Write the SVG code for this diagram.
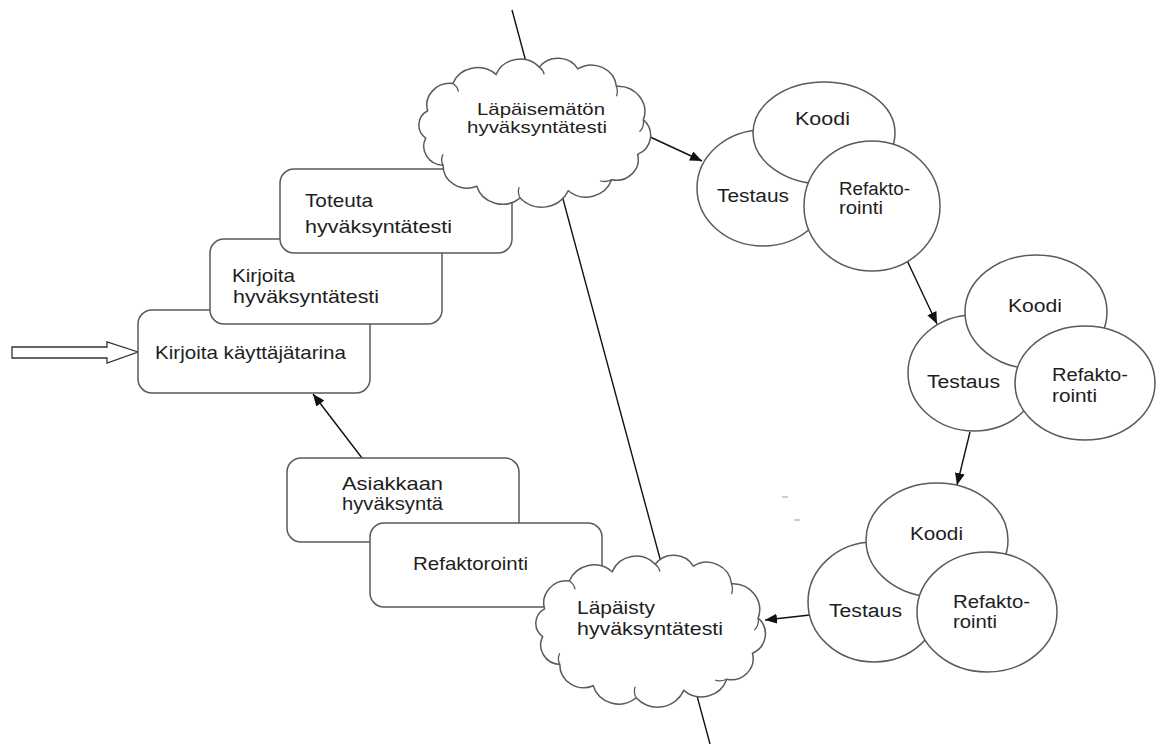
<svg xmlns="http://www.w3.org/2000/svg" width="1160" height="744" viewBox="0 0 1160 744">
<style>
.box{fill:#fff;stroke:#5a5a5a;stroke-width:1.5}
.ell{fill:#fff;stroke:#5a5a5a;stroke-width:1.5}
.cloud{fill:#fff;stroke:#5a5a5a;stroke-width:1.5;vector-effect:non-scaling-stroke}
.curl{fill:none;stroke:#5a5a5a;stroke-width:1.3;vector-effect:non-scaling-stroke}
.t{font-family:"Liberation Sans",Arial,sans-serif;fill:#1e1e1e}
.tb{font-size:19px}
.tc{font-size:17px}
.te{font-size:18px}
.ln{stroke:#111;stroke-width:1.4;fill:none}
.arr{marker-end:url(#ah)}
.hollow{fill:#fff;stroke:#333;stroke-width:1.3}
.stray{stroke:#bbb;stroke-width:1.5}
</style>
<defs>
<marker id="ah" viewBox="0 0 12 10" refX="12" refY="5" markerWidth="12" markerHeight="10" markerUnits="userSpaceOnUse" orient="auto"><path d="M0,0 L12,5 L0,10 z" fill="#111"/></marker>
<g id="cloudShape">
<path class="cloud" d="M4,52 A24,24 0 0 1 30,22 A28,28 0 0 1 75,12 A27,27 0 0 1 120,4 A24,24 0 0 1 160,6 A26,26 0 0 1 200,25 A28,28 0 0 1 228,62 A23,23 0 0 1 222,100 A23,23 0 0 1 195,128 A28,28 0 0 1 150,140 A30,30 0 0 1 100,148 A28,28 0 0 1 55,135 A25,25 0 0 1 20,112 A21,21 0 0 1 2,82 A18,18 0 0 1 4,52 Z"/>
<path class="curl" d="M30,22 Q35,25 36,31 M120,4 Q124,7 125,12 M200,25 Q202,31 200,36 M228,62 Q229,70 224,75 M195,128 Q188,131 183,129 M100,148 Q97,142 99,136 M20,112 Q17,106 20,100"/>
</g>
</defs>

<g id="connectors">
<line class="ln" x1="512" y1="10" x2="710" y2="744"/>
<line class="ln arr" x1="648" y1="136" x2="702" y2="161"/>
<line class="ln arr" x1="903" y1="252" x2="937" y2="324"/>
<line class="ln arr" x1="970" y1="432" x2="957" y2="485"/>
<line class="ln arr" x1="810" y1="615" x2="765" y2="620"/>
<line class="ln arr" x1="362" y1="458" x2="313" y2="394"/>
<polygon class="hollow" points="12,347 107,347 107,342 138,352 107,363 107,358 12,358"/>
<line class="stray" x1="782" y1="497" x2="788" y2="497"/>
<line class="stray" x1="794" y1="520" x2="800" y2="520"/>
</g>

<g id="box-kayttajatarina">
<rect class="box" x="138" y="310" width="232" height="83" rx="14"/>
<text class="t tb" x="155" y="359" textLength="191" lengthAdjust="spacingAndGlyphs">Kirjoita käyttäjätarina</text>
</g>
<g id="box-kirjoita">
<rect class="box" x="210" y="239" width="232" height="85" rx="14"/>
<text class="t tb" x="232" y="282" textLength="63" lengthAdjust="spacingAndGlyphs">Kirjoita</text>
<text class="t tb" x="233" y="303" textLength="146" lengthAdjust="spacingAndGlyphs">hyväksyntätesti</text>
</g>
<g id="box-toteuta">
<rect class="box" x="280" y="169" width="232" height="84" rx="14"/>
<text class="t tb" x="305" y="207" textLength="68" lengthAdjust="spacingAndGlyphs">Toteuta</text>
<text class="t tb" x="305" y="233" textLength="147" lengthAdjust="spacingAndGlyphs">hyväksyntätesti</text>
</g>
<g id="cloud-lapaisematon">
<use href="#cloudShape" transform="translate(423.8,63.5) scale(0.963,0.909)"/>
<text class="t tc" x="477" y="115" textLength="128" lengthAdjust="spacingAndGlyphs">Läpäisemätön</text>
<text class="t tc" x="467" y="133" textLength="140" lengthAdjust="spacingAndGlyphs">hyväksyntätesti</text>
</g>

<g id="box-asiakkaan">
<rect class="box" x="287" y="458" width="232" height="84" rx="14"/>
<text class="t tb" x="342" y="490" textLength="101" lengthAdjust="spacingAndGlyphs">Asiakkaan</text>
<text class="t tb" x="342" y="510" textLength="101" lengthAdjust="spacingAndGlyphs">hyväksyntä</text>
</g>
<g id="box-refaktorointi">
<rect class="box" x="370" y="523" width="232" height="84" rx="14"/>
<text class="t tb" x="413" y="570" textLength="115" lengthAdjust="spacingAndGlyphs">Refaktorointi</text>
</g>
<g id="cloud-lapaisty">
<use href="#cloudShape" transform="translate(540.7,560.6) scale(0.954,0.927)"/>
<text class="t tb" x="577" y="614" textLength="78" lengthAdjust="spacingAndGlyphs">Läpäisty</text>
<text class="t tb" x="577" y="635" textLength="146" lengthAdjust="spacingAndGlyphs">hyväksyntätesti</text>
</g>

<g id="c1-testaus">
<ellipse class="ell" cx="763" cy="188" rx="66" ry="58"/>
<text class="t te" x="717" y="202" textLength="72" lengthAdjust="spacingAndGlyphs">Testaus</text>
</g>
<g id="c1-koodi">
<ellipse class="ell" cx="824" cy="133" rx="71" ry="51"/>
<text class="t te" x="795" y="125" textLength="55" lengthAdjust="spacingAndGlyphs">Koodi</text>
</g>
<g id="c1-refaktorointi">
<ellipse class="ell" cx="872" cy="206" rx="68" ry="65"/>
<text class="t te" x="839" y="195" textLength="71" lengthAdjust="spacingAndGlyphs">Refakto-</text>
<text class="t te" x="839" y="214" textLength="44" lengthAdjust="spacingAndGlyphs">rointi</text>
</g>

<g id="c2-testaus">
<ellipse class="ell" cx="974" cy="373" rx="66" ry="58"/>
<text class="t te" x="927" y="388" textLength="73" lengthAdjust="spacingAndGlyphs">Testaus</text>
</g>
<g id="c2-koodi">
<ellipse class="ell" cx="1036" cy="312" rx="71" ry="57"/>
<text class="t te" x="1008" y="312" textLength="54" lengthAdjust="spacingAndGlyphs">Koodi</text>
</g>
<g id="c2-refaktorointi">
<ellipse class="ell" cx="1085" cy="383" rx="70" ry="57"/>
<text class="t te" x="1052" y="381" textLength="76" lengthAdjust="spacingAndGlyphs">Refakto-</text>
<text class="t te" x="1052" y="402" textLength="45" lengthAdjust="spacingAndGlyphs">rointi</text>
</g>

<g id="c3-testaus">
<ellipse class="ell" cx="874" cy="602" rx="66" ry="60"/>
<text class="t te" x="829" y="617" textLength="73" lengthAdjust="spacingAndGlyphs">Testaus</text>
</g>
<g id="c3-koodi">
<ellipse class="ell" cx="937" cy="540" rx="71" ry="57"/>
<text class="t te" x="910" y="540" textLength="53" lengthAdjust="spacingAndGlyphs">Koodi</text>
</g>
<g id="c3-refaktorointi">
<ellipse class="ell" cx="987" cy="612" rx="70" ry="60"/>
<text class="t te" x="953" y="608" textLength="77" lengthAdjust="spacingAndGlyphs">Refakto-</text>
<text class="t te" x="953" y="628" textLength="44" lengthAdjust="spacingAndGlyphs">rointi</text>
</g>
</svg>
